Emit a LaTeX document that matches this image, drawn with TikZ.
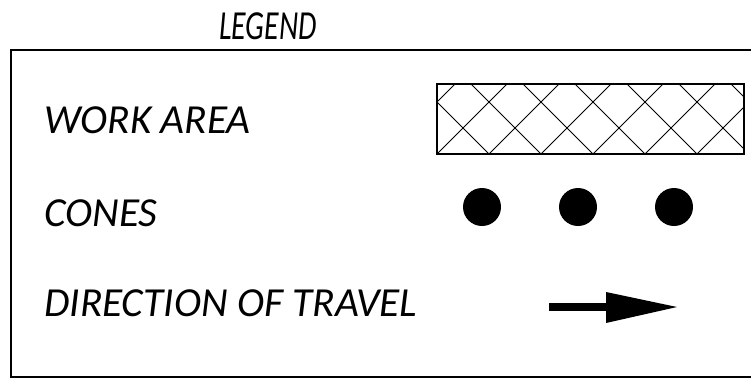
\documentclass[tikz,border=0pt]{standalone}
\usepackage{fontspec}
\setmainfont{Carlito}
\begin{document}
\begin{tikzpicture}[x=1pt,y=-1pt,
  lbl/.style={anchor=base west,inner sep=0pt,font=\fontsize{41.3}{46}\selectfont\itshape},
  cone/.style={circle,fill=black,minimum size=38pt,inner sep=0pt}]
\useasboundingbox (0,0) rectangle (751,380);
\node[lbl,anchor=base] (title) at (268,39) {\scalebox{0.72}[1]{LEGEND}};
\draw[line width=2pt] (11,50) rectangle (753,377);
\node[lbl] (work) at (44,133) {WORK AREA};
\node[lbl] (cones) at (44,226) {CONES};
\node[lbl] (dir) at (44,316) {DIRECTION OF TRAVEL};
% work area hatch
\node[draw,line width=1.2pt,minimum width=307pt,minimum height=70pt,inner sep=0pt] (wa) at (590.5,119) {};
\begin{scope}
\clip (wa.south west) rectangle (wa.north east);
\foreach \k in {-3,...,6} {
  \pgfmathsetmacro{\c}{387+52*\k}
  \draw[line width=1pt] (\c+84,84) -- (\c+154,154);
  \pgfmathsetmacro{\d}{591+52*\k}
  \draw[line width=1pt] (\d-84,84) -- (\d-154,154);
}
\end{scope}
\node[cone] (c1) at (482,207) {};
\node[cone] (c2) at (578,207) {};
\node[cone] (c3) at (674,207) {};
% direction arrow
\fill (549,303) rectangle (607,311);
\fill (606,292) -- (677,307) -- (606,323) -- cycle;
\end{tikzpicture}
\end{document}
